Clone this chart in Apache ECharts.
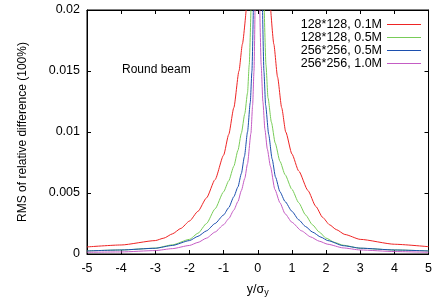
<!DOCTYPE html>
<html>
<head>
<meta charset="utf-8">
<script src="https://cdn.jsdelivr.net/npm/echarts@6/dist/echarts.min.js"></script>
<style>
  html, body { margin: 0; padding: 0; background: #fff; }
  #chart { width: 435px; height: 302px; }
</style>
</head>
<body>
<div id="chart"></div>
<script>
// legend names
var names = ['128*128, 0.1M', '128*128, 0.5M', '256*256, 0.5M', '256*256, 1.0M'];
var colors = ['#ee2424', '#78cc58', '#1c4fae', '#c45cc4'];

// [y/sigma_y, rms]; null splits the part above 0.02
var red = [[-5, 0.00058], [-4, 0.00074], [-3, 0.0011], [-2.75, 0.0013], [-2.5, 0.00165], [-2.25, 0.0021],
    [-2, 0.0027], [-1.75, 0.0035], [-1.5, 0.0046], [-1.25, 0.0061], [-1, 0.0081], [-0.85, 0.0098],
    [-0.7, 0.012], [-0.55, 0.015], [-0.45, 0.0172], [-0.34, 0.02], null,
    [0.38, 0.02], [0.47, 0.0172], [0.58, 0.0145], [0.7, 0.012], [0.82, 0.01], [1.0, 0.0082],
    [1.2, 0.0068], [1.47, 0.0052], [1.7, 0.0039], [1.9, 0.003], [2.1, 0.0024], [2.3, 0.002],
    [2.55, 0.0016], [3, 0.0012], [4, 0.0008], [5, 0.0006]];
var green = [[-5, 0.00025], [-4, 0.00033], [-3, 0.00048], [-2.5, 0.00075], [-2, 0.0012], [-1.75, 0.0017],
    [-1.5, 0.0025], [-1.25, 0.0037], [-1, 0.0051], [-0.85, 0.006], [-0.7, 0.0072], [-0.58, 0.0085],
    [-0.48, 0.0099], [-0.38, 0.0115], [-0.3, 0.0132], [-0.25, 0.0155], [-0.2, 0.02], null,
    [0.19, 0.02], [0.24, 0.0155], [0.3, 0.0128], [0.4, 0.0108], [0.51, 0.0091], [0.65, 0.0076],
    [0.8, 0.0065], [1.0, 0.0053], [1.2, 0.0042], [1.4, 0.0032], [1.6, 0.0024], [1.8, 0.0018],
    [2.0, 0.0013], [2.25, 0.00095], [2.5, 0.00072], [3, 0.00047], [4, 0.00033], [5, 0.00025]];
var blue = [[-5, 0.00025], [-4, 0.00033], [-3, 0.00047], [-2.5, 0.0007], [-2, 0.0011], [-1.75, 0.00145],
    [-1.5, 0.0019], [-1.25, 0.0025], [-1, 0.0032], [-0.85, 0.0038], [-0.7, 0.0047], [-0.58, 0.0055],
    [-0.48, 0.0066], [-0.39, 0.008], [-0.3, 0.01], [-0.22, 0.0124], [-0.17, 0.015], [-0.13, 0.02], null,
    [0.14, 0.02], [0.18, 0.015], [0.23, 0.0122], [0.32, 0.0098], [0.42, 0.0078], [0.52, 0.0063],
    [0.65, 0.0051], [0.8, 0.0043], [1.0, 0.0035], [1.2, 0.0028], [1.4, 0.00225], [1.6, 0.0018],
    [1.85, 0.00138], [2.05, 0.0011], [2.5, 0.00068], [3, 0.00048], [4, 0.00033], [5, 0.00025]];
var magenta = [[-5, 0.00014], [-4, 0.00017], [-3, 0.00028], [-2.5, 0.00044], [-2, 0.0007], [-1.75, 0.00095],
    [-1.5, 0.0013], [-1.25, 0.0018], [-1, 0.0024], [-0.85, 0.0029], [-0.7, 0.0036], [-0.58, 0.0043],
    [-0.48, 0.0052], [-0.38, 0.0062], [-0.3, 0.0074], [-0.2, 0.0099], [-0.15, 0.0122], [-0.11, 0.015],
    [-0.08, 0.02], null,
    [0.06, 0.02], [0.1, 0.0155], [0.15, 0.0125], [0.21, 0.0102], [0.28, 0.0086], [0.37, 0.0072],
    [0.5, 0.0053], [0.65, 0.0042], [0.8, 0.0033], [1.0, 0.0026], [1.28, 0.0019], [1.55, 0.0014],
    [1.8, 0.00105], [2.05, 0.0008], [2.5, 0.0005], [3, 0.00033], [4, 0.0002], [5, 0.00014]];

var allData = [red, green, blue, magenta];
var font = 'Liberation Sans, Arial, sans-serif';

var chart = echarts.init(document.getElementById('chart'), null, { renderer: 'canvas' });

var series = [];
for (var i = 0; i < allData.length; i++) {
    series.push({
        name: names[i],
        type: 'line',
        data: allData[i].map(function (p) { return p ? p : [null, null]; }),
        showSymbol: false,
        symbol: 'none',
        smooth: 0.2,
        smoothMonotone: 'x',
        connectNulls: false,
        clip: true,
        lineStyle: { color: colors[i], width: 1 },
        itemStyle: { color: colors[i] },
        animation: false
    });
}

var tick = { show: true, inside: true, length: 4, lineStyle: { color: '#000' } };
var line = { show: true, onZero: false, lineStyle: { color: '#000', width: 1 } };

var option = {
    animation: false,
    grid: { left: 87, right: 1, top: 10, bottom: 48, show: true, borderColor: '#000', borderWidth: 1 },
    legend: {
        orient: 'vertical',
        right: 9,
        top: 13,
        align: 'right',
        icon: 'rect',
        itemGap: 0,
        itemWidth: 34,
        itemHeight: 1,
        textStyle: { fontFamily: font, fontSize: 12.5, color: '#000', lineHeight: 12.3, padding: [0, 0, 0, 0] },
        data: names
    },
    graphic: [{
        type: 'text',
        left: 122,
        top: 64,
        style: { text: 'Round beam', font: '12px ' + font, fill: '#000' }
    }],
    xAxis: [{
        type: 'value', min: -5, max: 5, interval: 1,
        name: 'y/σ{sub|y}', nameLocation: 'middle', nameGap: 28,
        nameTextStyle: {
            fontFamily: font, fontSize: 12.5, color: '#000',
            rich: { sub: { fontFamily: font, fontSize: 9, color: '#000', verticalAlign: 'bottom', padding: [6, 0, 0, 0] } }
        },
        axisLine: line,
        axisTick: tick,
        axisLabel: { color: '#000', fontFamily: font, fontSize: 12.5, margin: 8 },
        splitLine: { show: false }
    }, {
        type: 'value', min: -5, max: 5, interval: 1, position: 'top',
        axisLine: line,
        axisTick: tick,
        axisLabel: { show: false },
        splitLine: { show: false }
    }],
    yAxis: [{
        type: 'value', min: 0, max: 0.02, interval: 0.005,
        name: 'RMS of relative difference (100%)', nameLocation: 'middle', nameGap: 58,
        nameTextStyle: { fontFamily: font, fontSize: 12, color: '#000' },
        axisLine: line,
        axisTick: tick,
        axisLabel: {
            color: '#000', fontFamily: font, fontSize: 12.5, margin: 7,
            formatter: function (v) { return v === 0 ? '0' : String(+v.toFixed(3)); }
        },
        splitLine: { show: false }
    }, {
        type: 'value', min: 0, max: 0.02, interval: 0.005, position: 'right',
        axisLine: line,
        axisTick: tick,
        axisLabel: { show: false },
        splitLine: { show: false }
    }],
    series: series
};

chart.setOption(option);
</script>
</body>
</html>
